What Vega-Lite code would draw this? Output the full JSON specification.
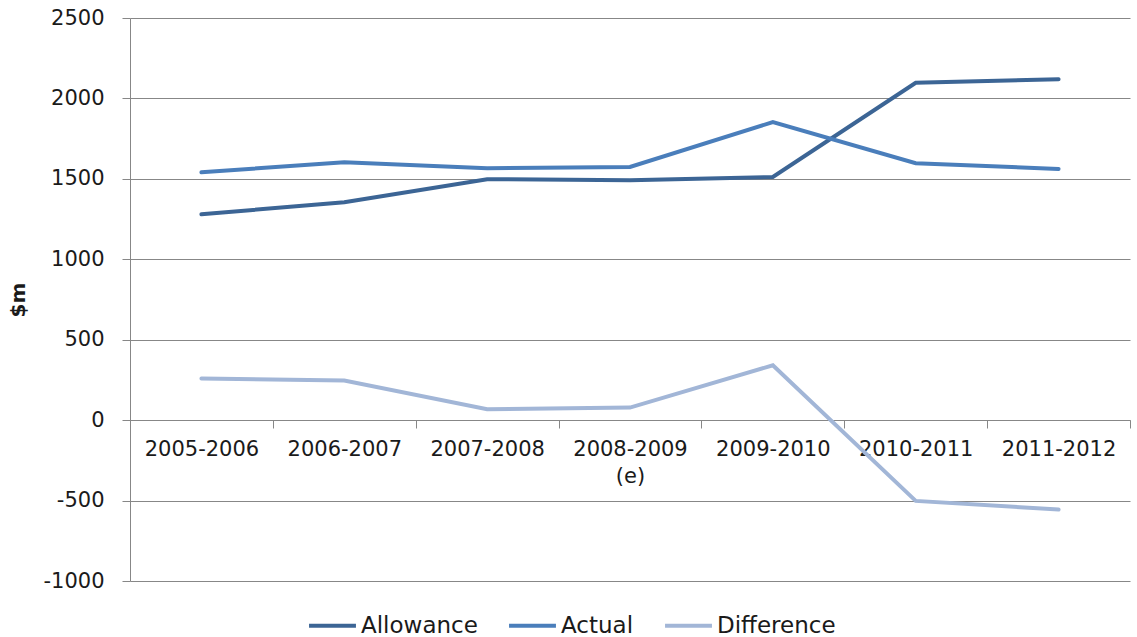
{
  "$schema": "https://vega.github.io/schema/vega-lite/v6.json",
  "width": 1000,
  "height": 563,
  "autosize": {"type": "none"},
  "padding": {"left": 130, "top": 18, "right": 7, "bottom": 56},
  "background": "white",
  "config": {
    "font": "DejaVu Sans",
    "view": {"stroke": null}
  },
  "data": {
    "values": [
      {"year": "2005-2006", "series": "Allowance", "value": 1280},
      {"year": "2006-2007", "series": "Allowance", "value": 1355},
      {"year": "2007-2008", "series": "Allowance", "value": 1498},
      {"year": "2008-2009 (e)", "series": "Allowance", "value": 1492},
      {"year": "2009-2010", "series": "Allowance", "value": 1512},
      {"year": "2010-2011", "series": "Allowance", "value": 2097},
      {"year": "2011-2012", "series": "Allowance", "value": 2120},
      {"year": "2005-2006", "series": "Actual", "value": 1541},
      {"year": "2006-2007", "series": "Actual", "value": 1603},
      {"year": "2007-2008", "series": "Actual", "value": 1566},
      {"year": "2008-2009 (e)", "series": "Actual", "value": 1574},
      {"year": "2009-2010", "series": "Actual", "value": 1853},
      {"year": "2010-2011", "series": "Actual", "value": 1597},
      {"year": "2011-2012", "series": "Actual", "value": 1562},
      {"year": "2005-2006", "series": "Difference", "value": 259},
      {"year": "2006-2007", "series": "Difference", "value": 246},
      {"year": "2007-2008", "series": "Difference", "value": 68},
      {"year": "2008-2009 (e)", "series": "Difference", "value": 78},
      {"year": "2009-2010", "series": "Difference", "value": 341},
      {"year": "2010-2011", "series": "Difference", "value": -502},
      {"year": "2011-2012", "series": "Difference", "value": -556}
    ]
  },
  "mark": {"type": "line", "strokeWidth": 4, "strokeCap": "round"},
  "encoding": {
    "x": {
      "field": "year",
      "type": "nominal",
      "sort": null,
      "scale": {"type": "band", "paddingInner": 0, "paddingOuter": 0},
      "axis": {
        "title": null,
        "orient": "bottom",
        "offset": -161,
        "labelAngle": 0,
        "labelFontSize": 21,
        "labelColor": "#1a1a1a",
        "labelPadding": 10,
        "labelLineHeight": 27,
        "labelExpr": "split(datum.label, ' ')",
        "domainColor": "#878787",
        "tickColor": "#878787",
        "tickSize": 8,
        "tickBand": "extent",
        "grid": false
      }
    },
    "y": {
      "field": "value",
      "type": "quantitative",
      "scale": {"domain": [-1000, 2500], "nice": false, "zero": false},
      "axis": {
        "title": "$m",
        "titleFontSize": 20,
        "titleFontWeight": "bold",
        "titleColor": "#1a1a1a",
        "titlePadding": 14,
        "values": [-1000, -500, 0, 500, 1000, 1500, 2000, 2500],
        "labelExpr": "replace(format(datum.value, 'd'), '\u2212', '-')",
        "labelFontSize": 21,
        "labelColor": "#1a1a1a",
        "labelPadding": 18,
        "tickSize": 8,
        "tickColor": "#878787",
        "domainColor": "#878787",
        "gridColor": "#878787",
        "grid": true
      }
    },
    "color": {
      "field": "series",
      "type": "nominal",
      "sort": ["Allowance", "Actual", "Difference"],
      "scale": {"domain": ["Allowance", "Actual", "Difference"], "range": ["#3C6595", "#4A7EBB", "#A2B6D7"]},
      "legend": {
        "title": null,
        "orient": "none",
        "direction": "horizontal",
        "legendX": 177,
        "legendY": 582,
        "symbolType": "stroke",
        "symbolSize": 2200,
        "symbolStrokeWidth": 4,
        "labelFontSize": 23,
        "labelColor": "#1a1a1a",
        "labelOffset": 3,
        "columnPadding": 23
      }
    }
  }
}
